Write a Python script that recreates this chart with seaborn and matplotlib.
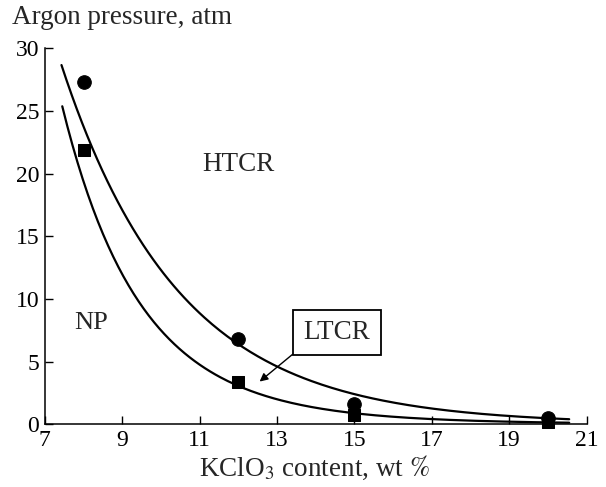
import numpy as np
import pandas as pd
import seaborn as sns
import matplotlib.pyplot as plt

# Values
kclo3 = [8, 12, 15, 20]                 # KClO3 content, wt %
htcr_pressure = [27.3, 6.8, 1.6, 0.5]   # circles: HTCR boundary, atm
ltcr_pressure = [21.9, 3.4, 0.7, 0.15]  # squares: LTCR boundary, atm

# boundary curves
upper_curve_x = [7.43, 8.03, 8.4, 12, 15.57, 20.55]
upper_curve_y = [28.3, 23.5, 20.8, 6.7, 1.9, 0.4]
lower_curve_x = [7.45, 7.6, 8.38, 12, 15, 20.55]
lower_curve_y = [25.5, 23.5, 15.5, 3.4, 0.8, 0.12]

x_ticks = [7, 9, 11, 13, 15, 17, 19, 21]
y_ticks = [0, 5, 10, 15, 20, 25, 30]

sns.set_style("ticks")
plt.rcParams['font.family'] = ['Liberation Serif', 'DejaVu Serif']
plt.rcParams['mathtext.fontset'] = 'stix'

fig = plt.figure(figsize=(6.06, 4.87), dpi=100)
ax = fig.add_axes([0.074, 0.129, 0.894, 0.772])

df = pd.DataFrame({'x': kclo3, 'htcr': htcr_pressure, 'ltcr': ltcr_pressure})

# smooth the read curve points (quadratic in log space)
for cx, cy in [(upper_curve_x, upper_curve_y), (lower_curve_x, lower_curve_y)]:
    coef = np.polyfit(cx, np.log(cy), 2)
    xs = np.linspace(min(cx), max(cx), 200)
    sns.lineplot(x=xs, y=np.exp(np.polyval(coef, xs)), ax=ax, color='black', lw=1.6)

sns.scatterplot(data=df, x='x', y='htcr', ax=ax, marker='o', s=95, color='black',
                edgecolor='black', clip_on=False, zorder=3)
sns.scatterplot(data=df, x='x', y='ltcr', ax=ax, marker='s', s=85, color='black',
                edgecolor='black', clip_on=False, zorder=3)

ax.set_xlim(7, 21)
ax.set_ylim(0, 30)
ax.set_xticks(x_ticks)
ax.set_yticks(y_ticks)
ax.tick_params(direction='in', length=6, width=1, labelsize=17, pad=4, colors='black')
for s in ['top', 'right']:
    ax.spines[s].set_visible(False)
for s in ['left', 'bottom']:
    ax.spines[s].set_linewidth(1.1)
    ax.spines[s].set_color('black')
ax.set_xlabel('')
ax.set_ylabel('')

ax.text(12.0, 20.7, 'HTCR', fontsize=19.5, ha='center', va='center')
ax.text(8.2, 8.1, 'NP', fontsize=19, ha='center', va='center')
ax.annotate('LTCR', xy=(12.55, 3.4), xytext=(14.55, 7.3), fontsize=19.5,
            ha='center', va='center',
            bbox=dict(boxstyle='square,pad=0.38', fc='white', ec='black', lw=1.3),
            arrowprops=dict(arrowstyle='-|>', color='black', lw=1.0,
                            mutation_scale=12, relpos=(0, 0), shrinkA=0, shrinkB=0))

fig.text(0.02, 0.965, 'Argon pressure, atm', fontsize=19.5, ha='left', va='center')
fig.text(0.518, 0.04, r'KClO$_3$ content, wt $\mathit{\%}$', fontsize=19.5,
         ha='center', va='center')

fig.savefig('out.png', dpi=100, facecolor='white')
